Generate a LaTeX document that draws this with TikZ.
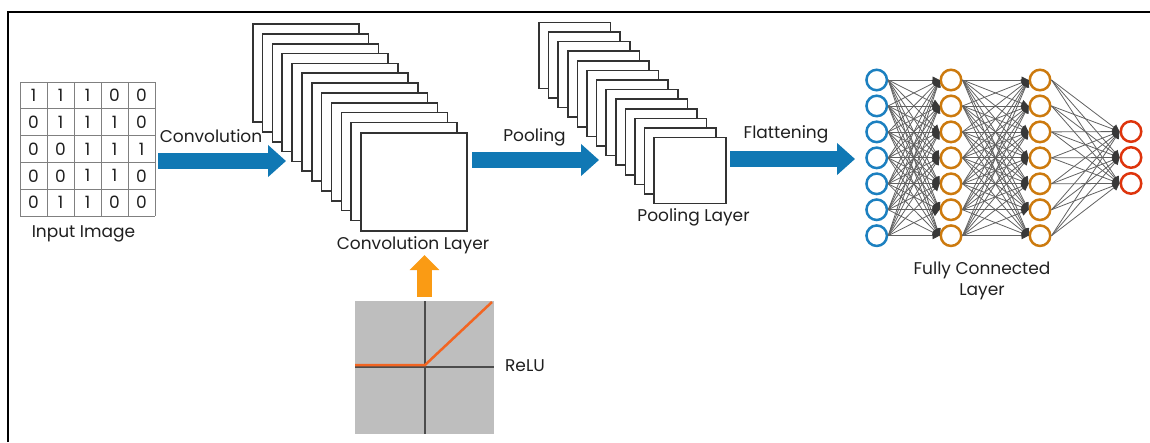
\documentclass[tikz,border=0pt]{standalone}
\usepackage{fontspec}
\setmainfont{Poppins}
\usepackage{tikz}
\usetikzlibrary{arrows.meta}
\usepackage{xcolor}
\definecolor{flowblue}{RGB}{16,120,180}
\definecolor{inblue}{RGB}{28,128,192}
\definecolor{hidorange}{RGB}{204,122,14}
\definecolor{outred}{RGB}{222,52,12}
\definecolor{relugray}{RGB}{190,190,190}
\definecolor{reluorange}{RGB}{242,101,34}
\definecolor{uporange}{RGB}{250,155,20}

\begin{document}
\begin{tikzpicture}[x=1pt,y=-1pt,>={Triangle[length=7pt,width=7pt,color=black!78]},font=\fontsize{17}{21}\selectfont,line cap=butt,
  gridline/.style={draw=black!50,line width=0.9},
  cell/.style={inner sep=0,text=black!88},
  fmap/.style={draw=black!80,fill=white,line width=1.6},
  flow/.style={draw=flowblue,line width=16,-{Triangle[length=18pt,width=31pt]}},
  upflow/.style={draw=uporange,line width=14.5,-{Triangle[length=15pt,width=29pt]}},
  neuron/.style={circle,fill=white,line width=2.5,minimum size=20.5,inner sep=0},
  link/.style={draw=black!62,line width=0.8,->},
  lbl/.style={text=black!88,inner sep=0}]
\useasboundingbox (0,0) rectangle (1150,442);
\draw[line width=2.3] (8.3,442) -- (8.3,12) -- (1150,12);

% input image
\node[minimum width=135,minimum height=134,inner sep=0] (img) at (87.5,149) {};
\foreach \i in {0,...,5} {
  \draw[gridline] (20+27*\i,82) -- (20+27*\i,216);
  \draw[gridline] (20,82+26.8*\i) -- (155,82+26.8*\i);
}
\foreach \row [count=\r] in {{1,1,1,0,0},{0,1,1,1,0},{0,0,1,1,1},{0,0,1,1,0},{0,1,1,0,0}}
  \foreach \v [count=\c] in \row
    \node[cell] (c\r\c) at (6.5+27*\c,68.6+26.8*\r) {\v};
\node[lbl] (imglbl) at (83.5,234) {Input Image};

% convolution layer
\foreach \k in {0,...,10}
  \draw[fmap] (252.7+9.85*\k,24+9.85*\k) rectangle ++(106,98);
\node[fmap,minimum width=106,minimum height=98,inner sep=0] (conv) at (414,181.7) {};
\node[lbl] (convlbl) at (413,245) {Convolution Layer};

% pooling layer
\foreach \k in {0,...,11}
  \draw[fmap] (539+9.6*\k,22.3+9.6*\k) rectangle ++(71.5,66);
\node[fmap,minimum width=71.5,minimum height=66,inner sep=0] (pool) at (690,170.5) {};
\node[lbl] (poollbl) at (693.5,217) {Pooling Layer};

% big arrows
\coordinate (convin) at (158,161);
\coordinate (convout) at (286,161);
\coordinate (poolin) at (472,160);
\coordinate (poolout) at (599,160);
\coordinate (flatin) at (730,159);
\coordinate (flatout) at (855,159);
\draw[flow] (convin) -- (convout);
\draw[flow] (poolin) -- (poolout);
\draw[flow] (flatin) -- (flatout);
\node[lbl] (convtxt) at (211,136) {Convolution};
\node[lbl] (pooltxt) at (534.5,137) {Pooling};
\node[lbl] (flattxt) at (786,134) {Flattening};

% fully connected layer
\foreach \i in {1,...,7} {
  \node[neuron,draw=inblue] (b\i) at (876.7,54.05+25.95*\i) {};
  \node[neuron,draw=hidorange] (h\i) at (951,54.05+25.95*\i) {};
  \node[neuron,draw=hidorange] (g\i) at (1040,54.05+25.95*\i) {};
}
\foreach \i in {1,2,3}
  \node[neuron,draw=outred] (o\i) at (1131,105.6+25.95*\i) {};
\foreach \i in {1,...,7}
  \foreach \j in {1,...,7} {
    \draw[link] (b\i.east) -- (h\j.west);
    \draw[link] (h\i.east) -- (g\j.west);
  }
\foreach \i in {1,...,7}
  \foreach \j in {1,2,3}
    \draw[link] (g\i.east) -- (o\j.west);
\node[lbl,align=center] (fclbl) at (982,281) {Fully Connected\\Layer};

% relu
\node[fill=relugray,minimum width=139,minimum height=133,inner sep=0] (relu) at (424.5,367.5) {};
\draw[draw=black!70,line width=2] (355,367) -- (494,367);
\draw[draw=black!70,line width=2] (425,301) -- (425,434);
\draw[draw=reluorange,line width=2.5] (355,365) -- (425,365) -- (492,302);
\node[lbl] (relulbl) at (525,366) {ReLU};
\coordinate (reluto) at (424.5,255);
\draw[upflow] ([yshift=4pt]relu.north) -- (reluto);
\end{tikzpicture}
\end{document}
